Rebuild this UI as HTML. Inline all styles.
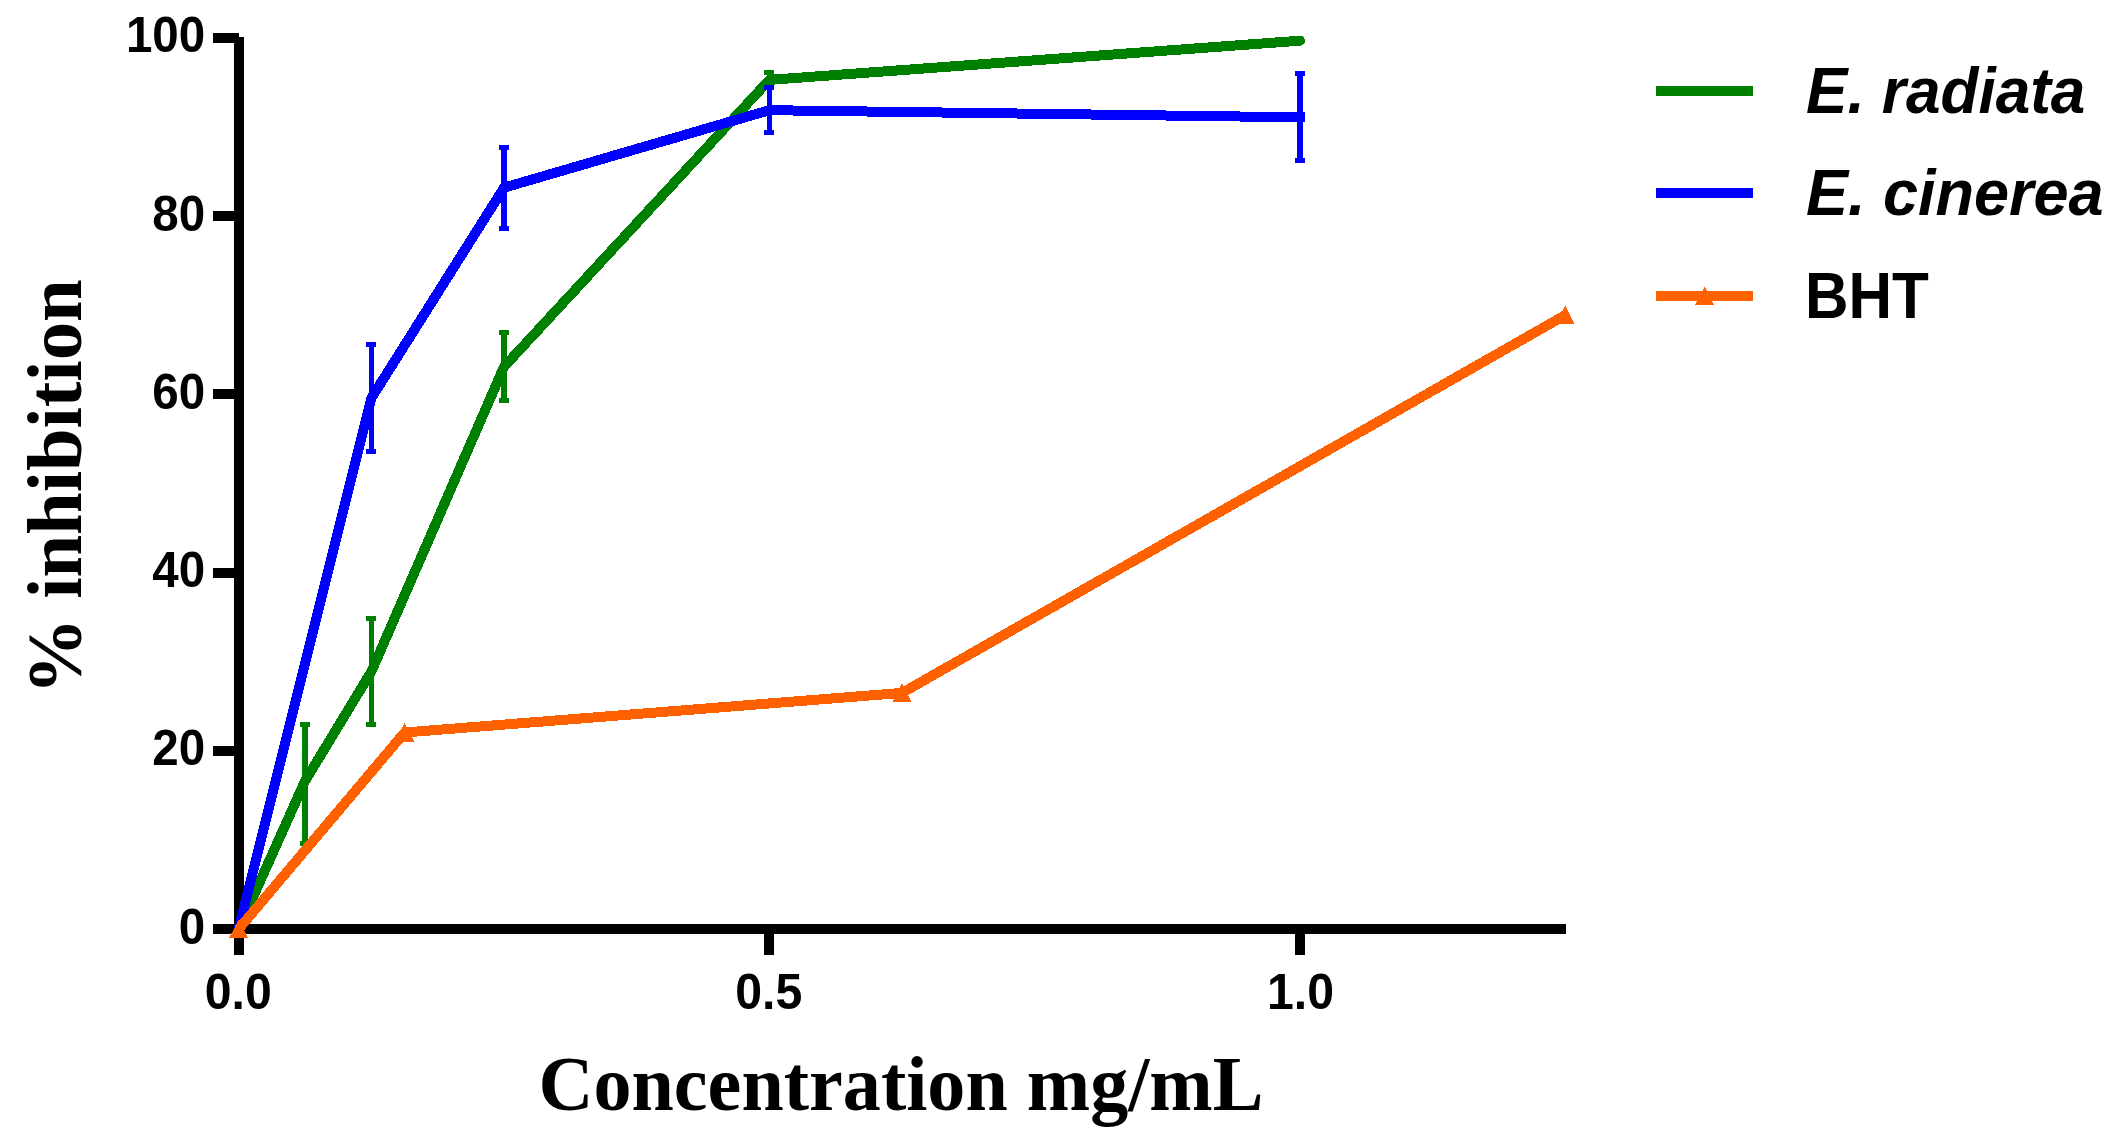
<!DOCTYPE html>
<html><head><meta charset="utf-8"><title>Chart</title>
<style>
html,body{margin:0;padding:0;background:#fff;}
body{width:2115px;height:1142px;overflow:hidden;}
svg{display:block;}
.tk{font-family:"Liberation Sans",Arial,sans-serif;font-weight:bold;font-size:49px;fill:#000;}
.lg{font-family:"Liberation Sans",Arial,sans-serif;font-weight:bold;font-size:63px;fill:#000;}
.it{font-style:italic;}
.ti{font-family:"Liberation Serif","Times New Roman",serif;font-weight:bold;font-size:78px;fill:#000;}
</style></head><body>
<svg width="2115" height="1142" viewBox="0 0 2115 1142" shape-rendering="crispEdges">
<rect width="2115" height="1142" fill="#fff"/>
<rect x="234" y="37" width="10" height="918" fill="#000"/>
<rect x="213" y="924" width="1353" height="10" fill="#000"/>
<rect x="213" y="745.8" width="26" height="10" fill="#000"/>
<rect x="213" y="567.6" width="26" height="10" fill="#000"/>
<rect x="213" y="389.4" width="26" height="10" fill="#000"/>
<rect x="213" y="211.2" width="26" height="10" fill="#000"/>
<rect x="213" y="33.0" width="26" height="10" fill="#000"/>
<rect x="764.3" y="929" width="10" height="26" fill="#000"/>
<rect x="1295.0" y="929" width="10" height="26" fill="#000"/>
<text transform="translate(205.2,943.5) scale(0.9700,1.0200)" text-anchor="end" class="tk">0</text>
<text transform="translate(205.2,765.3) scale(0.9700,1.0200)" text-anchor="end" class="tk">20</text>
<text transform="translate(205.2,587.1) scale(0.9700,1.0200)" text-anchor="end" class="tk">40</text>
<text transform="translate(205.2,408.9) scale(0.9700,1.0200)" text-anchor="end" class="tk">60</text>
<text transform="translate(205.2,230.7) scale(0.9700,1.0200)" text-anchor="end" class="tk">80</text>
<text transform="translate(205.2,51.5) scale(0.9700,1.0200)" text-anchor="end" class="tk">100</text>
<text transform="translate(238.2,1009.0) scale(0.9850,1.0200)" text-anchor="middle" class="tk">0.0</text>
<text transform="translate(768.8,1009.0) scale(0.9850,1.0200)" text-anchor="middle" class="tk">0.5</text>
<text transform="translate(1300.5,1009.0) scale(0.9850,1.0200)" text-anchor="middle" class="tk">1.0</text>
<rect x="302.3" y="722.0" width="5.5" height="124.0" fill="#008000"/>
<rect x="300.0" y="722.0" width="10" height="5" fill="#008000"/>
<rect x="300.0" y="841.0" width="10" height="5" fill="#008000"/>
<rect x="368.6" y="616.0" width="5.5" height="111.0" fill="#008000"/>
<rect x="366.4" y="616.0" width="10" height="5" fill="#008000"/>
<rect x="366.4" y="722.0" width="10" height="5" fill="#008000"/>
<rect x="501.3" y="330.0" width="5.5" height="73.0" fill="#008000"/>
<rect x="499.0" y="330.0" width="10" height="5" fill="#008000"/>
<rect x="499.0" y="398.0" width="10" height="5" fill="#008000"/>
<rect x="766.6" y="70.0" width="5.5" height="18.5" fill="#008000"/>
<rect x="764.3" y="70.0" width="10" height="5" fill="#008000"/>
<rect x="764.3" y="83.5" width="10" height="5" fill="#008000"/>
<polyline points="238.7,929.0 305.0,781.1 371.4,671.5 504.0,366.8 769.3,79.9 1300.0,40.7" fill="none" stroke="#008000" stroke-width="10" stroke-linecap="round" stroke-linejoin="round"/>
<rect x="368.6" y="342.0" width="5.5" height="112.0" fill="#0000ff"/>
<rect x="366.4" y="342.0" width="10" height="5" fill="#0000ff"/>
<rect x="366.4" y="449.0" width="10" height="5" fill="#0000ff"/>
<rect x="501.3" y="145.0" width="5.5" height="86.0" fill="#0000ff"/>
<rect x="499.0" y="145.0" width="10" height="5" fill="#0000ff"/>
<rect x="499.0" y="226.0" width="10" height="5" fill="#0000ff"/>
<rect x="766.6" y="85.0" width="5.5" height="50.0" fill="#0000ff"/>
<rect x="764.3" y="85.0" width="10" height="5" fill="#0000ff"/>
<rect x="764.3" y="130.0" width="10" height="5" fill="#0000ff"/>
<rect x="1297.2" y="71.0" width="5.5" height="92.0" fill="#0000ff"/>
<rect x="1295.0" y="71.0" width="10" height="5" fill="#0000ff"/>
<rect x="1295.0" y="158.0" width="10" height="5" fill="#0000ff"/>
<polyline points="238.7,929.0 371.4,398.0 504.0,187.7 769.3,110.2 1300.0,117.3" fill="none" stroke="#0000ff" stroke-width="10" stroke-linecap="round" stroke-linejoin="round"/>
<rect x="1300.0" y="112.3" width="5" height="10" fill="#0000ff"/>
<polyline points="238.7,929.0 404.6,732.5 902.0,692.9 1565.3,315.1" fill="none" stroke="#ff6000" stroke-width="10" stroke-linecap="butt" stroke-linejoin="round"/>
<polygon points="238.7,919.5 248.2,938.0 229.2,938.0" fill="#ff6000"/>
<polygon points="404.6,723.0 414.1,741.5 395.1,741.5" fill="#ff6000"/>
<polygon points="902.0,683.4 911.5,701.9 892.5,701.9" fill="#ff6000"/>
<polygon points="1565.3,305.6 1574.8,324.1 1555.8,324.1" fill="#ff6000"/>
<rect x="1656" y="86" width="97" height="10" fill="#008000"/>
<rect x="1656" y="188" width="97" height="10" fill="#0000ff"/>
<rect x="1656" y="291" width="97" height="10" fill="#ff6000"/>
<polygon points="1704.7,286.5 1714.2,305.0 1695.2,305.0" fill="#ff6000"/>
<text transform="translate(1806.0,113.0) scale(0.9850,1.0200)" text-anchor="start" class="lg it">E. radiata</text>
<text transform="translate(1806.0,215.0) scale(1.0000,1.0200)" text-anchor="start" class="lg it">E. cinerea</text>
<text transform="translate(1805.0,318.0) scale(0.9570,1.0200)" text-anchor="start" class="lg">BHT</text>
<text transform="translate(901.0,1110.0) scale(0.9760,1.0000)" text-anchor="middle" class="ti">Concentration mg/mL</text>
<text transform="translate(81.0,487.0) rotate(-90) scale(0.9820,1.0000)" text-anchor="middle" class="ti">% inhibition</text>
</svg>
</body></html>
